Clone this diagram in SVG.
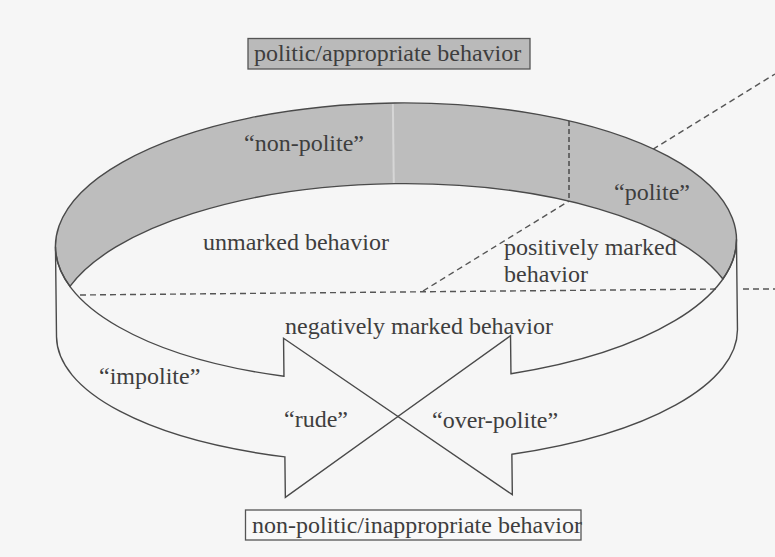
<svg xmlns="http://www.w3.org/2000/svg" width="775" height="557" viewBox="0 0 775 557">
  <style>
    .lbl { font-family: "Liberation Serif", "Times New Roman", serif; font-size: 24px; fill: #3e3e3e; }
    .edge { fill: none; stroke: #4a4a4a; stroke-width: 1.4; stroke-linejoin: miter; }
    .dash { fill: none; stroke: #555; stroke-width: 1.4; stroke-dasharray: 6 4; }
    .dash-v { fill: none; stroke: #444; stroke-width: 1.4; stroke-dasharray: 5 3; }
  </style>

  <!-- paper -->
  <rect x="0" y="0" width="775" height="557" fill="#f6f6f6"/>

  <!-- dividing planes (drawn beneath the rim) -->
  <g id="dividers">
    <line class="dash" x1="423" y1="291" x2="775" y2="74"/>
    <line class="dash" x1="80" y1="295" x2="719" y2="289"/>
    <line class="dash" x1="743" y1="289" x2="775" y2="289"/>
  </g>

  <!-- the ring: shaded rim on top, two curved arrows below -->
  <g id="ring" transform="rotate(-0.65 396.5 290)">
    <g id="rim">
      <path d="M70,282.7 A340.5 140 0 1 1 723,282.7 A342 141 0 0 0 70,282.7 Z" fill="#bdbdbd" stroke="#4a4a4a" stroke-width="1.4"/>
      <line x1="395" y1="104" x2="395" y2="183" stroke="#d6d6d6" stroke-width="2"/>
    </g>
    <g id="arrow-impolite">
      <path class="edge" d="M56,243 L56,333 A340.5 130 0 0 0 283,455.6 L283,496 L396.5,416.5 L283,337 L283,375 A340.5 140 0 0 1 56,243"/>
    </g>
    <g id="arrow-overpolite">
      <path class="edge" d="M737,243 L737,333 A340.5 130 0 0 1 510,455.6 L510,496 L396.5,416.5 L510,337 L510,375 A340.5 140 0 0 0 737,243"/>
    </g>
  </g>

  <g id="boundary-polite">
    <line class="dash-v" x1="569" y1="121" x2="569" y2="201"/>
  </g>

  <!-- labels -->
  <g id="politic-box">
    <rect x="248" y="38.5" width="282" height="30.5" fill="#bababa" stroke="#555" stroke-width="1.3"/>
    <text class="lbl" x="254" y="61">politic/appropriate behavior</text>
  </g>
  <g id="non-politic-box">
    <rect x="245.5" y="510" width="335.5" height="30" fill="#f9f9f9" stroke="#555" stroke-width="1.3"/>
    <text class="lbl" x="252" y="533">non-politic/inappropriate behavior</text>
  </g>
  <g id="label-non-polite"><text class="lbl" x="244" y="151">“non-polite”</text></g>
  <g id="label-polite"><text class="lbl" x="614" y="200">“polite”</text></g>
  <g id="label-unmarked"><text class="lbl" x="203" y="250">unmarked behavior</text></g>
  <g id="label-positive">
    <text class="lbl" x="504" y="255">positively marked</text>
    <text class="lbl" x="504" y="282">behavior</text>
  </g>
  <g id="label-negative"><text class="lbl" x="285" y="334">negatively marked behavior</text></g>
  <g id="label-impolite"><text class="lbl" x="99" y="384">“impolite”</text></g>
  <g id="label-rude"><text class="lbl" x="284" y="427">“rude”</text></g>
  <g id="label-over-polite"><text class="lbl" x="432" y="428">“over-polite”</text></g>
</svg>
